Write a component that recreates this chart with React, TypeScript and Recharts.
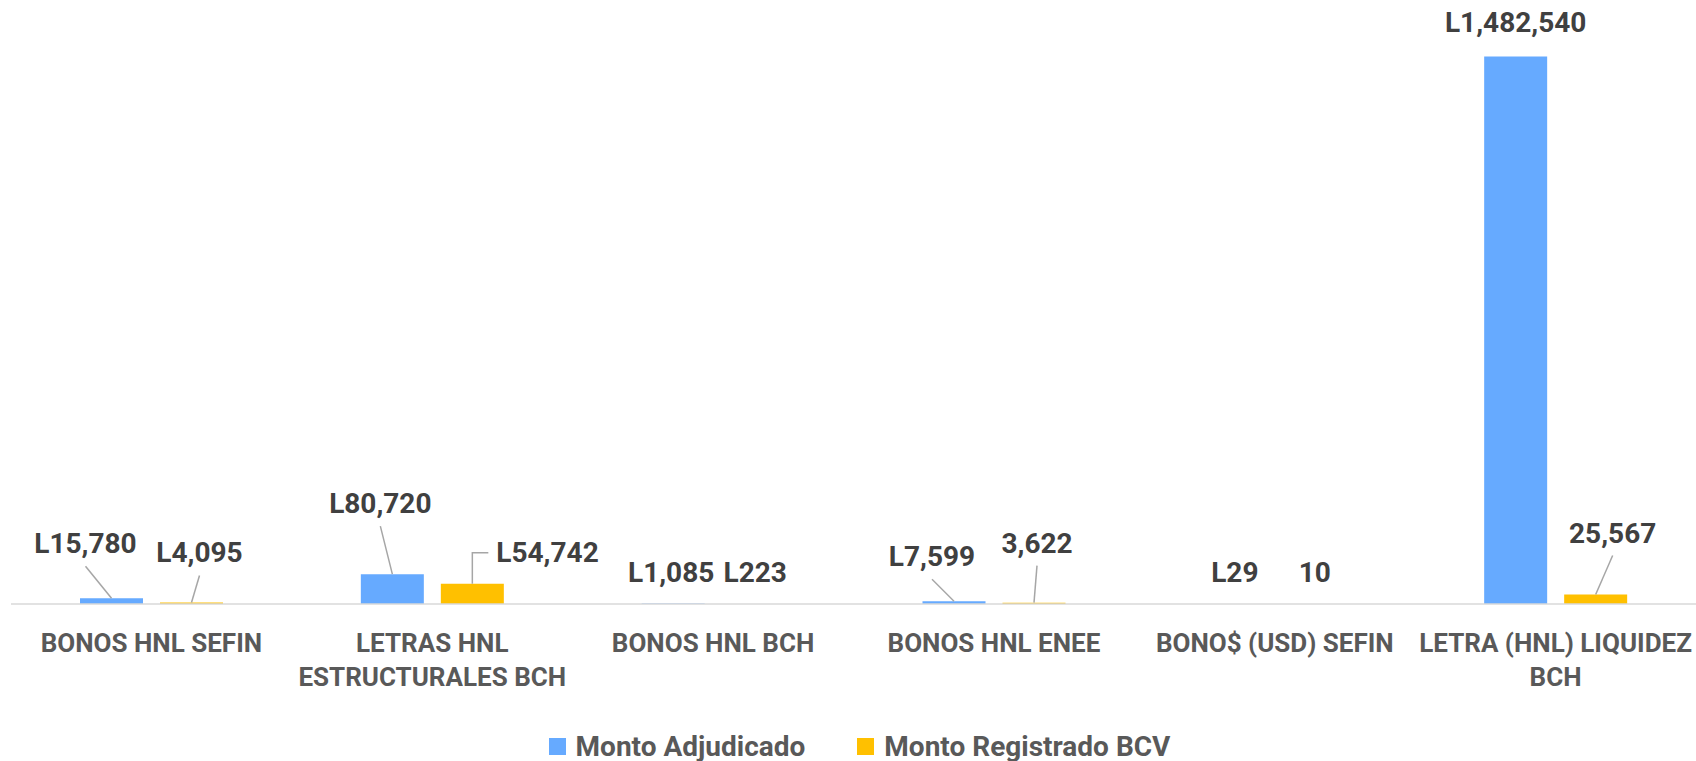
import React from 'react';
import { BarChart, Bar, XAxis, YAxis, Legend, LabelList } from 'recharts';

const categories = [
  'BONOS HNL SEFIN',
  'LETRAS HNL\nESTRUCTURALES BCH',
  'BONOS HNL BCH',
  'BONOS HNL ENEE',
  'BONO$ (USD) SEFIN',
  'LETRA (HNL) LIQUIDEZ\nBCH',
];
const montoAdjudicado = [15780, 80720, 1085, 7599, 29, 1482540];
const montoRegistrado = [4095, 54742, 223, 3622, 10, 25567];

// the original only prints the "L" on some of the labels
const adjPrefix = ['L', 'L', 'L', 'L', 'L', 'L'];
const bcvPrefix = ['L', 'L', 'L', '', '', ''];

// hand-moved labels (offset from bar top centre) and their leader lines
const adjShift = [[-26, -45], [-12, -61], [-2, -22], [-22, -35], [0, -22], [0, -24]];
const bcvShift = [[8, -40], [24, -22], [2, -22], [3, -50], [0, -22], [17, -52]];
const adjLeader = ['line', 'line', 'none', 'line', 'none', 'none'];
const bcvLeader = ['line', 'elbow', 'none', 'line', 'none', 'line'];

const data = categories.map((name, i) => ({
  name,
  adjudicado: montoAdjudicado[i],
  registrado: montoRegistrado[i],
}));

const FONT = 'Roboto, "Liberation Sans", sans-serif';

const makeLabel = (prefix: string[], shift: number[][], leader: string[]) => (props: any) => {
  const { x, y, width, index, value } = props;
  const cx = x + width / 2;
  const [dx, dy] = shift[index];
  const lx = cx + dx;
  const by = y + dy;
  const kind = leader[index];
  const text = prefix[index] + Number(value).toLocaleString('en-US');
  return (
    <g>
      {kind === 'line' && (
        <line x1={lx} y1={by + 13} x2={cx} y2={y} stroke="#A6A6A6" strokeWidth={1.5} />
      )}
      {kind === 'elbow' && (
        <polyline
          points={`${lx - 8},${by - 9} ${cx},${by - 9} ${cx},${y}`}
          fill="none"
          stroke="#A6A6A6"
          strokeWidth={1.5}
        />
      )}
      <text
        x={lx}
        y={by}
        textAnchor={kind === 'elbow' ? 'start' : 'middle'}
        fill="#404040"
        fontSize={28}
        fontWeight={700}
        fontFamily={FONT}
      >
        {text}
      </text>
    </g>
  );
};

const CategoryTick = (props: any) => {
  const { x, y, payload } = props;
  const lines = String(payload.value).split('\n');
  return (
    <text x={x} y={y} textAnchor="middle" fill="#595959" fontSize={26} fontWeight={700} fontFamily={FONT}>
      {lines.map((l, i) => (
        <tspan key={i} x={x} dy={i === 0 ? 48 : 34}>
          {l}
        </tspan>
      ))}
    </text>
  );
};

const LegendContent = (props: any) => (
  <div
    style={{
      display: 'flex',
      justifyContent: 'center',
      alignItems: 'center',
      gap: 52,
      paddingLeft: 12,
      height: 30,
      fontFamily: FONT,
      fontWeight: 700,
      fontSize: 28,
      color: '#595959',
    }}
  >
    {(props.payload || []).map((p: any) => (
      <div key={p.value} style={{ display: 'flex', alignItems: 'center', gap: 10 }}>
        <span style={{ width: 17, height: 17, background: p.color, display: 'inline-block' }} />
        <span>{p.value}</span>
      </div>
    ))}
  </div>
);

const App = () => {
  return (
    <div style={{ position: 'absolute', left: 0, top: 0, width: 1696, height: 761, background: '#fff' }}>
      <BarChart
        width={1696}
        height={761}
        data={data}
        margin={{ top: 13, right: 0, left: 11, bottom: 0 }}
        barCategoryGap={69}
        barGap={17}
      >
        <XAxis
          dataKey="name"
          interval={0}
          tickLine={false}
          tickSize={0}
          tickMargin={0}
          height={127}
          axisLine={{ stroke: '#D9D9D9', strokeWidth: 1.5 }}
          tick={<CategoryTick />}
        />
        <YAxis hide domain={[0, 1600000]} />
        <Legend verticalAlign="bottom" height={30} content={<LegendContent />} />
        <Bar dataKey="adjudicado" name="Monto Adjudicado" fill="#66AAFF" isAnimationActive={false}>
          <LabelList dataKey="adjudicado" content={makeLabel(adjPrefix, adjShift, adjLeader)} />
        </Bar>
        <Bar dataKey="registrado" name="Monto Registrado BCV" fill="#FFC000" isAnimationActive={false}>
          <LabelList dataKey="registrado" content={makeLabel(bcvPrefix, bcvShift, bcvLeader)} />
        </Bar>
      </BarChart>
    </div>
  );
};

export default App;
